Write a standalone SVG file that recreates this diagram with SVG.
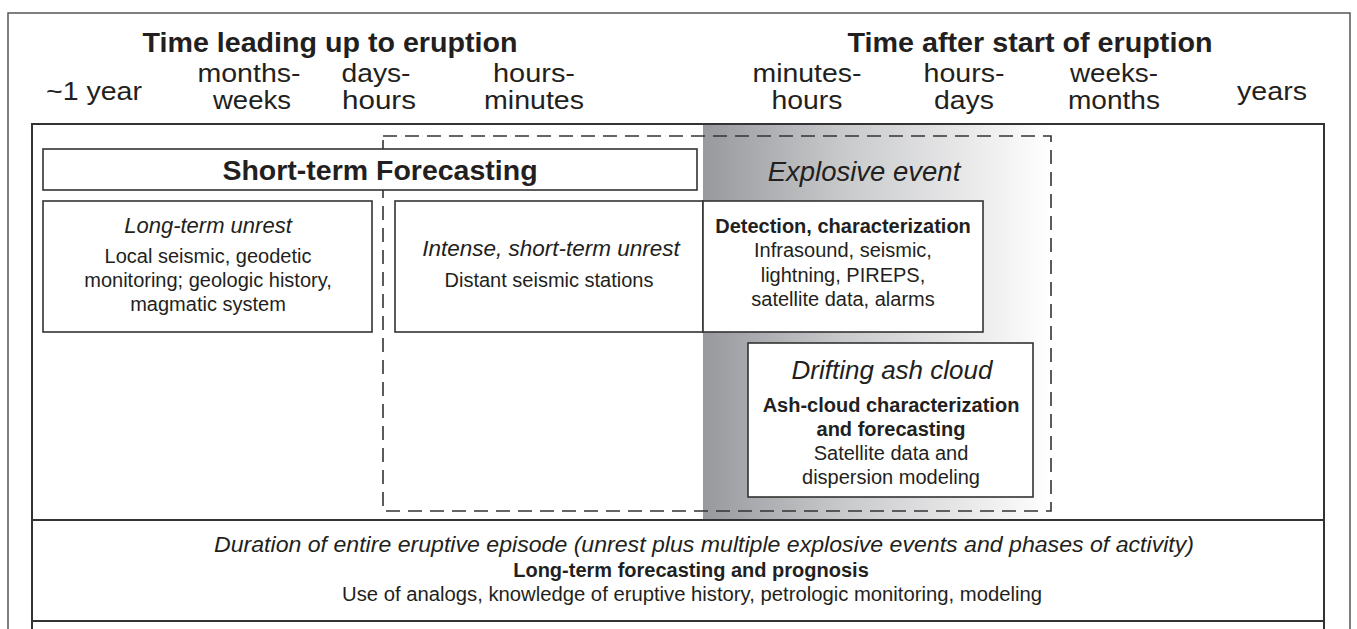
<svg xmlns="http://www.w3.org/2000/svg" width="1357" height="629" viewBox="0 0 1357 629">
  <defs>
    <linearGradient id="eventShade" x1="703" y1="0" x2="1052" y2="0" gradientUnits="userSpaceOnUse">
      <stop offset="0" stop-color="#98999d"/>
      <stop offset="0.4" stop-color="#c8c9cb"/>
      <stop offset="0.75" stop-color="#e8e8e9"/>
      <stop offset="1" stop-color="#ffffff"/>
    </linearGradient>
    <style>
      text { font-family: "Liberation Sans", Arial, Helvetica, sans-serif; fill: #231f20; text-anchor: middle; }
      .title { font-size: 27px; font-weight: bold; }
      .time { font-size: 25.5px; }
      .head { font-size: 28.5px; font-weight: bold; }
      .ital { font-style: italic; }
      .body { font-size: 20px; }
      .bold { font-size: 20px; font-weight: bold; }
      .box { fill: #ffffff; stroke: #333333; stroke-width: 1.6; }
      .frame { fill: none; stroke: #555555; stroke-width: 1.5; }
      .panel { fill: none; stroke: #333333; stroke-width: 2; }
      .dash { fill: none; stroke: #333333; stroke-width: 1.6; stroke-dasharray: 14 8; }
    </style>
  </defs>

  <rect x="0" y="0" width="1357" height="629" fill="#ffffff"/>

  <!-- outer frame -->
  <path class="frame" d="M8,640 V13 H1350 V640"/>

  <!-- headings and time scale -->
  <g id="axis">
    <text class="title" x="330" y="52" textLength="375" lengthAdjust="spacingAndGlyphs">Time leading up to eruption</text>
    <text class="title" x="1030" y="52" textLength="365" lengthAdjust="spacingAndGlyphs">Time after start of eruption</text>

    <text class="time" x="94" y="100" textLength="96" lengthAdjust="spacingAndGlyphs">~1 year</text>
    <text class="time" x="249" y="81.5" textLength="103" lengthAdjust="spacingAndGlyphs">months-</text>
    <text class="time" x="252" y="108.5" textLength="78" lengthAdjust="spacingAndGlyphs">weeks</text>
    <text class="time" x="376" y="81.5" textLength="69" lengthAdjust="spacingAndGlyphs">days-</text>
    <text class="time" x="379" y="108.5" textLength="74" lengthAdjust="spacingAndGlyphs">hours</text>
    <text class="time" x="534" y="81.5" textLength="82" lengthAdjust="spacingAndGlyphs">hours-</text>
    <text class="time" x="534" y="108.5" textLength="100" lengthAdjust="spacingAndGlyphs">minutes</text>

    <text class="time" x="807" y="81.5" textLength="109" lengthAdjust="spacingAndGlyphs">minutes-</text>
    <text class="time" x="807" y="108.5" textLength="71" lengthAdjust="spacingAndGlyphs">hours</text>
    <text class="time" x="964" y="81.5" textLength="81" lengthAdjust="spacingAndGlyphs">hours-</text>
    <text class="time" x="964" y="108.5" textLength="60" lengthAdjust="spacingAndGlyphs">days</text>
    <text class="time" x="1114" y="81.5" textLength="88" lengthAdjust="spacingAndGlyphs">weeks-</text>
    <text class="time" x="1114" y="108.5" textLength="92" lengthAdjust="spacingAndGlyphs">months</text>
    <text class="time" x="1272" y="100" textLength="70" lengthAdjust="spacingAndGlyphs">years</text>
  </g>

  <!-- shaded span of the explosive event -->
  <rect id="event-shade" x="703" y="125" width="349" height="395" fill="url(#eventShade)"/>

  <!-- main panel with its two dividers -->
  <g id="panel">
    <path class="panel" d="M32,640 V124 H1324 V640"/>
    <line class="panel" x1="32" y1="520" x2="1324" y2="520"/>
    <line class="panel" x1="32" y1="621" x2="1324" y2="621"/>
  </g>

  <!-- dashed window: eruption onset -->
  <g id="connectors">
    <rect class="dash" x="383" y="136" width="668" height="375"/>
  </g>

  <g id="short-term-forecasting">
    <rect class="box" x="43" y="149" width="654" height="41"/>
    <text class="head" x="380" y="180">Short-term Forecasting</text>
  </g>

  <g id="explosive-event">
    <text class="ital" x="864" y="181" style="font-size:27.5px">Explosive event</text>
  </g>

  <g id="long-term-unrest">
    <rect class="box" x="43" y="201" width="329" height="131"/>
    <text class="ital" x="208" y="233" style="font-size:22px">Long-term unrest</text>
    <text class="body" x="208" y="263">Local seismic, geodetic</text>
    <text class="body" x="208" y="287">monitoring; geologic history,</text>
    <text class="body" x="208" y="311">magmatic system</text>
  </g>

  <g id="short-term-unrest">
    <rect class="box" x="395" y="201" width="308" height="131"/>
    <text class="ital" x="551" y="256" style="font-size:22.5px">Intense, short-term unrest</text>
    <text class="body" x="549" y="287">Distant seismic stations</text>
  </g>

  <g id="detection">
    <rect class="box" x="703" y="201" width="280" height="131"/>
    <text class="bold" x="843" y="233">Detection, characterization</text>
    <text class="body" x="843" y="257">Infrasound, seismic,</text>
    <text class="body" x="843" y="282">lightning, PIREPS,</text>
    <text class="body" x="843" y="306">satellite data, alarms</text>
  </g>

  <g id="ash-cloud">
    <rect class="box" x="748" y="343" width="285" height="154"/>
    <text class="ital" x="892" y="379" style="font-size:26px">Drifting ash cloud</text>
    <text class="bold" x="891" y="412">Ash-cloud characterization</text>
    <text class="bold" x="891" y="436">and forecasting</text>
    <text class="body" x="891" y="460">Satellite data and</text>
    <text class="body" x="891" y="484">dispersion modeling</text>
  </g>

  <g id="eruptive-episode">
    <text class="ital" x="704" y="552" style="font-size:22.5px" textLength="980" lengthAdjust="spacingAndGlyphs">Duration of entire eruptive episode (unrest plus multiple explosive events and phases of activity)</text>
    <text class="bold" x="691" y="577">Long-term forecasting and prognosis</text>
    <text class="body" x="692" y="601" textLength="700" lengthAdjust="spacingAndGlyphs">Use of analogs, knowledge of eruptive history, petrologic monitoring, modeling</text>
  </g>
</svg>
